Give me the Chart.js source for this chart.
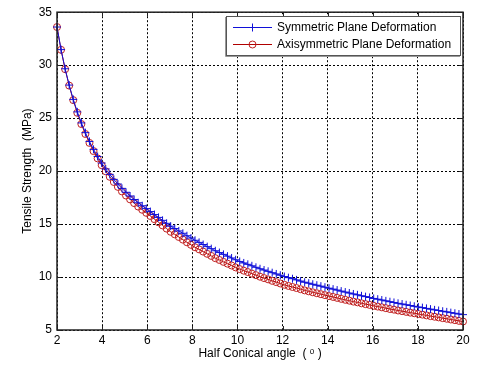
<!DOCTYPE html>
<html>
<head>
<meta charset="utf-8">
<script src="https://cdn.jsdelivr.net/npm/chart.js@4"></script>
<style>
html,body{margin:0;padding:0;background:#fff;}
#wrap{position:relative;width:480px;height:369px;}
</style>
</head>
<body>
<div id="wrap"><canvas id="c" width="480" height="369"></canvas></div>
<script>
const xs = [2,2.18,2.36,2.54,2.72,2.9,3.08,3.26,3.44,3.62,3.8,3.98,4.16,4.34,4.52,4.7,4.88,5.06,5.24,5.42,5.6,5.78,5.96,6.14,6.32,6.5,6.68,6.86,7.04,7.22,7.4,7.58,7.76,7.94,8.12,8.3,8.48,8.66,8.84,9.02,9.2,9.38,9.56,9.74,9.92,10.1,10.28,10.46,10.64,10.82,11,11.18,11.36,11.54,11.72,11.9,12.08,12.26,12.44,12.62,12.8,12.98,13.16,13.34,13.52,13.7,13.88,14.06,14.24,14.42,14.6,14.78,14.96,15.14,15.32,15.5,15.68,15.86,16.04,16.22,16.4,16.58,16.76,16.94,17.12,17.3,17.48,17.66,17.84,18.02,18.2,18.38,18.56,18.74,18.92,19.1,19.28,19.46,19.64,19.82,20];
const symmetric = [33.60,31.47,29.66,28.12,26.77,25.59,24.55,23.63,22.80,22.05,
21.38,20.76,20.20,19.69,19.22,18.78,18.37,18.00,17.65,17.32,
17.01,16.73,16.46,16.18,15.90,15.63,15.35,15.07,14.80,14.58,
14.35,14.13,13.90,13.68,13.47,13.27,13.07,12.87,12.68,12.48,
12.31,12.14,11.97,11.80,11.63,11.47,11.33,11.20,11.06,10.92,
10.78,10.66,10.54,10.41,10.29,10.17,10.05,9.94,9.84,9.73,
9.62,9.51,9.42,9.32,9.23,9.14,9.04,8.95,8.86,8.77,
8.67,8.58,8.49,8.40,8.32,8.23,8.15,8.07,7.98,7.91,
7.83,7.75,7.67,7.60,7.52,7.45,7.38,7.31,7.24,7.17,
7.11,7.04,6.97,6.90,6.84,6.77,6.71,6.64,6.58,6.51,6.45];
const axisymmetric = [33.60,31.45,29.62,28.07,26.70,25.50,24.44,23.50,22.66,21.89,
21.20,20.56,19.98,19.46,18.97,18.51,18.08,17.69,17.33,16.98,
16.65,16.35,16.06,15.76,15.46,15.17,14.87,14.57,14.27,14.03,
13.78,13.53,13.28,13.04,12.81,12.61,12.40,12.19,11.99,11.78,
11.61,11.43,11.26,11.09,10.91,10.75,10.60,10.47,10.32,10.18,
10.03,9.90,9.78,9.64,9.52,9.39,9.27,9.16,9.06,8.96,
8.85,8.74,8.65,8.56,8.47,8.38,8.29,8.20,8.12,8.03,
7.94,7.85,7.77,7.68,7.61,7.52,7.44,7.37,7.28,7.21,
7.14,7.06,6.98,6.92,6.84,6.78,6.71,6.64,6.58,6.51,
6.45,6.38,6.31,6.25,6.19,6.12,6.06,5.99,5.93,5.86,5.80];
const seriesNames = ["Symmetric Plane Deformation","Axisymmetric Plane Deformation"];
const xTitle = "Half Conical angle  ( \u1D52 )";
const yTitle = "Tensile Strength  (MPa)";
const xMin = 2, xMax = 20, xStep = 2;
const yMin = 5, yMax = 35, yStep = 5;

const FONT = "'Liberation Sans', Arial, 'DejaVu Sans', sans-serif";
const BLUE = '#1010d8';
const RED = '#b00000';

const frame = {
  id: 'frame',
  afterDatasetsDraw(chart) {
    const {ctx, chartArea: a, scales} = chart;
    ctx.save();
    ctx.strokeStyle = '#222';
    ctx.lineWidth = 1;
    ctx.beginPath();
    scales.x.ticks.forEach(t => {
      const px = Math.round(scales.x.getPixelForValue(t.value)) + 0.5;
      ctx.moveTo(px, a.bottom); ctx.lineTo(px, a.bottom - 4);
      ctx.moveTo(px, a.top); ctx.lineTo(px, a.top + 4);
    });
    scales.y.ticks.forEach(t => {
      const py = Math.round(scales.y.getPixelForValue(t.value)) + 0.5;
      ctx.moveTo(a.left, py); ctx.lineTo(a.left + 4, py);
      ctx.moveTo(a.right, py); ctx.lineTo(a.right - 4, py);
    });
    ctx.stroke();
    ctx.lineWidth = 1.5;
    ctx.strokeStyle = '#222';
    ctx.strokeRect(a.left, a.top, a.right - a.left, a.bottom - a.top);
    ctx.restore();
  },
  afterDraw(chart) {
    const {ctx} = chart;
    const bx = 226, by = 16, bw = 234, bh = 39;
    ctx.save();
    ctx.fillStyle = '#fff';
    ctx.fillRect(bx, by, bw, bh);
    ctx.strokeStyle = '#555';
    ctx.lineWidth = 1;
    ctx.strokeRect(bx + 0.5, by + 0.5, bw, bh);
    ctx.strokeStyle = '#999';
    ctx.beginPath();
    ctx.moveTo(bx - 0.5, by + 1); ctx.lineTo(bx - 0.5, by + bh + 1.5); ctx.lineTo(bx + bw, by + bh + 1.5);
    ctx.stroke();
    const rows = [by + 11, by + 28];
    chart.data.datasets.forEach((ds, i) => {
      const y = rows[i];
      ctx.strokeStyle = ds.borderColor;
      ctx.lineWidth = 1;
      ctx.beginPath(); ctx.moveTo(233, y + 0.5); ctx.lineTo(272, y + 0.5); ctx.stroke();
      ctx.strokeStyle = ds.pointBorderColor;
      ctx.beginPath();
      if (ds.pointStyle === 'cross') {
        ctx.moveTo(252.5, y - 3.5); ctx.lineTo(252.5, y + 4.5);
        ctx.moveTo(248.5, y + 0.5); ctx.lineTo(256.5, y + 0.5);
      } else {
        ctx.arc(252.5, y + 0.5, 3.5, 0, Math.PI * 2);
      }
      ctx.stroke();
      ctx.fillStyle = '#000';
      ctx.font = '12px ' + FONT;
      ctx.textBaseline = 'middle';
      ctx.textAlign = 'left';
      ctx.fillText(ds.label, 277, y + 1);
    });
    ctx.restore();
  }
};

new Chart(document.getElementById('c'), {
  type: 'line',
  data: {
    datasets: [
      {
        label: seriesNames[0],
        data: xs.map((x, i) => ({x: x, y: symmetric[i]})),
        borderColor: BLUE, pointBorderColor: BLUE, backgroundColor: BLUE,
        borderWidth: 1, pointStyle: 'cross', pointRadius: 4, pointBorderWidth: 1,
        tension: 0, clip: false
      },
      {
        label: seriesNames[1],
        data: xs.map((x, i) => ({x: x, y: axisymmetric[i]})),
        borderColor: RED, pointBorderColor: '#c02020', backgroundColor: 'rgba(0,0,0,0)',
        pointBackgroundColor: 'rgba(0,0,0,0)',
        borderWidth: 1, pointStyle: 'circle', pointRadius: 3.5, pointBorderWidth: 1,
        tension: 0, clip: false
      }
    ]
  },
  options: {
    responsive: false,
    animation: false,
    devicePixelRatio: 1,
    layout: {padding: {top: 10, right: 17, left: 0, bottom: 0}},
    plugins: {legend: {display: false}, tooltip: {enabled: false}, title: {display: false}},
    scales: {
      x: {
        type: 'linear', min: xMin, max: xMax,
        ticks: {stepSize: xStep, color: '#000', font: {family: FONT, size: 12}, padding: 3, maxRotation: 0},
        grid: {color: '#000', lineWidth: 1, drawTicks: false},
        border: {display: false, dash: [2, 2]},
        title: {display: true, text: xTitle, color: '#000', font: {family: FONT, size: 12}, padding: {top: 0, bottom: 8}},
        afterFit(s) { s.height = 39; }
      },
      y: {
        type: 'linear', min: yMin, max: yMax,
        ticks: {stepSize: yStep, color: '#000', font: {family: FONT, size: 12}, padding: 5},
        grid: {color: '#000', lineWidth: 1, drawTicks: false},
        border: {display: false, dash: [2, 2]},
        title: {display: true, text: yTitle, color: '#000', font: {family: FONT, size: 12}, padding: {top: 20, bottom: 0}},
        afterFit(s) { s.width = 57; }
      }
    }
  },
  plugins: [frame]
});
</script>
</body>
</html>
